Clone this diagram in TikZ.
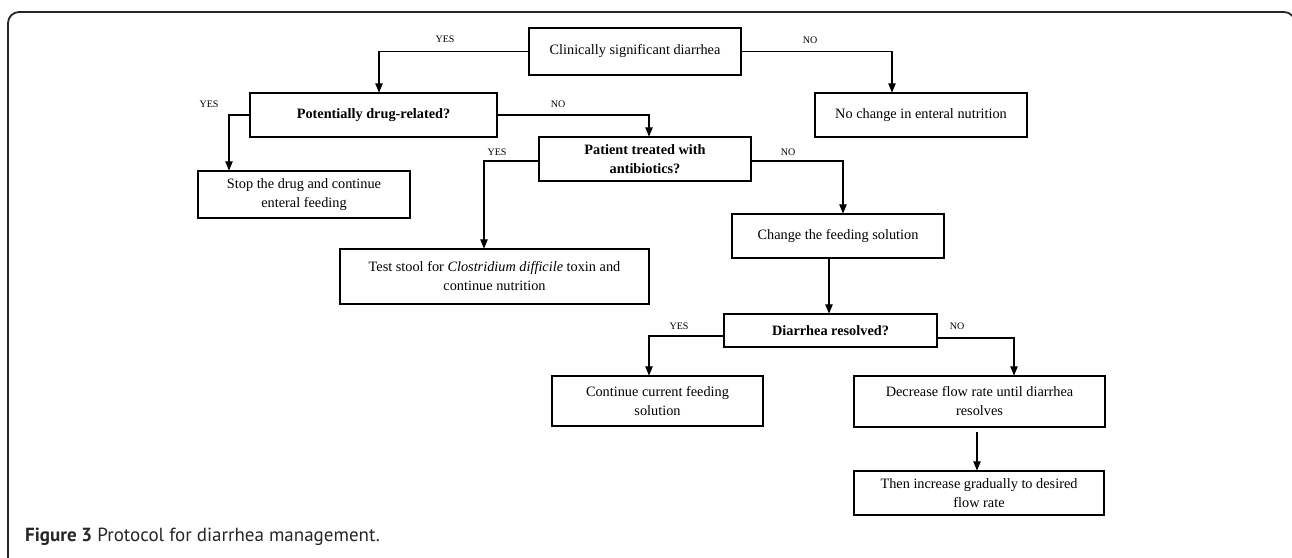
\documentclass[tikz,border=0pt]{standalone}
\usepackage{fontspec}
\setmainfont{Liberation Serif}
\newfontfamily\capfont{PT Sans}
\usepackage{tikz}
\usetikzlibrary{arrows}

\tikzset{
  box/.style={draw, line width=1.1pt, align=center, inner sep=0pt, font=\fontsize{14.3}{19}\selectfont},
  qbox/.style={box, font=\fontsize{14.3}{19}\selectfont\bfseries},
  lab/.style={font=\fontsize{10}{10}\selectfont},
  link/.style={->, line width=1.1pt},
}

\begin{document}
\begin{tikzpicture}[x=1pt,y=-1pt,>=triangle 45]
\useasboundingbox (0,0) rectangle (1292,557);
\draw[line width=1.8pt, rounded corners=11pt, black!85] (8,562) -- (8,12) -- (1295,12) -- (1295,562);

% boxes
\node[box, minimum width=212pt, minimum height=47pt] (clin) at (635,51.5) {Clinically significant diarrhea};
\node[box, minimum width=212pt, minimum height=44pt] (nochange) at (921,115) {No change in enteral nutrition};
\node[qbox, minimum width=247pt, minimum height=44pt] (drug) at (373.5,115) {Potentially drug-related?};
\node[qbox, minimum width=212pt, minimum height=44pt] (abx) at (645,159) {Patient treated with\\antibiotics?};
\node[box, minimum width=212pt, minimum height=47pt] (stop) at (304,194.5) {Stop the drug and continue\\enteral feeding};
\node[box, minimum width=309pt, minimum height=55pt] (test) at (494.5,276.5) {Test stool for \textit{Clostridium difficile} toxin and\\continue nutrition};
\node[box, minimum width=212pt, minimum height=44pt] (change) at (838,236) {Change the feeding solution};
\node[qbox, minimum width=213pt, minimum height=33pt] (resolved) at (830.5,330.5) {Diarrhea resolved?};
\node[box, minimum width=211pt, minimum height=50pt] (cont) at (657.5,401) {Continue current feeding\\solution};
\node[box, minimum width=251pt, minimum height=51pt] (decr) at (979.5,401.5) {Decrease flow rate until diarrhea\\resolves};
\node[box, minimum width=250pt, minimum height=44pt] (incr) at (979,493) {Then increase gradually to desired\\flow rate};

% yes / no labels
\node[lab] (y1) at (445,39) {YES};   \node[lab] (n1) at (810,40) {NO};
\node[lab] (y2) at (209,104) {YES};  \node[lab] (n2) at (558,104) {NO};
\node[lab] (y3) at (497,152) {YES};  \node[lab] (n3) at (788,152) {NO};
\node[lab] (y4) at (679,326) {YES};  \node[lab] (n4) at (957,326) {NO};

% connectors
\draw[link] (clin.west) -| ([xshift=5.5pt]drug.north);
\draw[link] (clin.east) -| ([xshift=-29pt]nochange.north);
\draw[link] (drug.west) -| ([xshift=-75pt]stop.north);
\draw[link] (drug.east) -| ([xshift=4pt]abx.north);
\draw[link] ([yshift=-2pt]abx.west) -| ([xshift=-10.5pt]test.north);
\draw[link] ([yshift=-2pt]abx.east) -| ([xshift=5pt]change.north);
\draw[link] ([xshift=-9pt]change.south) -- ([xshift=-1.5pt]resolved.north);
\draw[link] ([yshift=-5.5pt]resolved.west) -| ([xshift=-8.5pt]cont.north);
\draw[link] ([yshift=-7.5pt]resolved.east) -| ([xshift=34.5pt]decr.north);
\draw[link] ([xshift=-2.5pt,yshift=-4pt]decr.south) -- ([xshift=-2pt]incr.north);

% caption
\node[anchor=west, inner sep=0pt, font=\capfont\fontsize{19}{22}\selectfont, text=black!85] (cap) at (25,537) {\textbf{Figure 3} Protocol for diarrhea management.};
\end{tikzpicture}
\end{document}
